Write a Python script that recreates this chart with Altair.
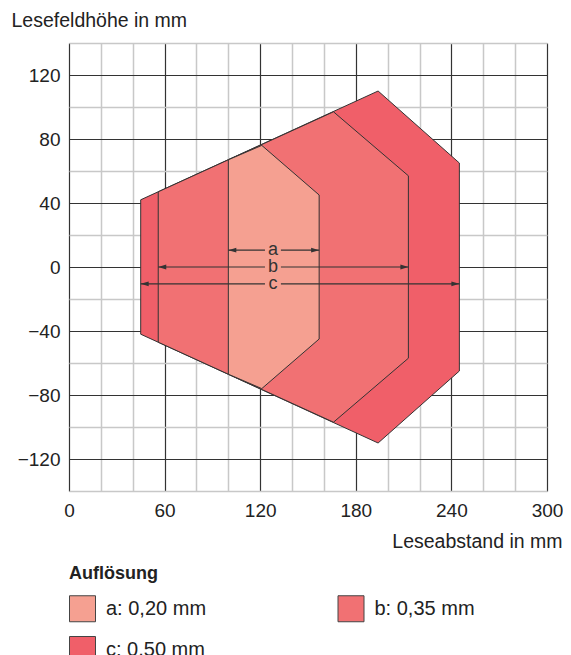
import altair as alt
import pandas as pd

# ---- data ----
res_names = ["a: 0,20 mm", "b: 0,35 mm", "c: 0,50 mm"]
res_colors = ["#F5A091", "#F17173", "#F05F69"]

poly_a_x = [100, 121, 157, 157, 121, 100, 100]
poly_a_y = [67, 76, 45, -45, -76, -67, 67]
poly_b_x = [56, 166, 213, 213, 166, 56, 56]
poly_b_y = [47, 97, 57, -57, -97, -47, 47]
poly_c_x = [45, 194, 245, 245, 194, 45, 45]
poly_c_y = [42, 110, 65, -65, -110, -42, 42]

arrow_names = ["a", "b", "c"]
arrow_y = [10.5, 0, -10.5]
arrow_start = [100, 56, 45]
arrow_end = [157, 213, 245]
label_x = 128
label_gap = 5

x_grid = list(range(0, 301, 20))
y_grid = list(range(-140, 141, 20))

FONT = "Liberation Sans"
TXT = "#222222"

def poly_df(xs, ys, name):
    return pd.DataFrame({"x": xs, "y": ys, "i": list(range(len(xs))), "res": [name] * len(xs)})

df_a = poly_df(poly_a_x, poly_a_y, res_names[0])
df_b = poly_df(poly_b_x, poly_b_y, res_names[1])
df_c = poly_df(poly_c_x, poly_c_y, res_names[2])

seg_rows = []
for n, yy, s, e in zip(arrow_names, arrow_y, arrow_start, arrow_end):
    seg_rows.append({"x": s, "x2": label_x - label_gap, "y": yy})
    seg_rows.append({"x": label_x + label_gap, "x2": e, "y": yy})
df_seg = pd.DataFrame(seg_rows)
df_left = pd.DataFrame({"x": arrow_start, "y": arrow_y})
df_right = pd.DataFrame({"x": arrow_end, "y": arrow_y})
df_lab = pd.DataFrame({"x": [label_x] * 3, "y": arrow_y, "t": arrow_names})

xscale = alt.Scale(domain=[0, 300], nice=False, zero=False)
yscale = alt.Scale(domain=[-140, 140], nice=False, zero=False)

xaxis = alt.Axis(
    values=x_grid,
    labelExpr="datum.value % 60 === 0 ? datum.label : ''",
    grid=True,
    gridColor={"condition": {"test": "datum.value % 60 === 0", "value": "#333333"}, "value": "#c8c8c8"},
    gridWidth={"condition": {"test": "datum.value % 60 === 0", "value": 1.2}, "value": 1.5},
    ticks=False, domain=False, labelPadding=10, labelFont=FONT, labelFontSize=19,
    labelColor=TXT, labelFlush=False, labelOverlap=False,
    title="Leseabstand in mm", titleFont=FONT, titleFontSize=19.5, titleFontWeight="normal",
    titleColor=TXT, titleAlign="right", titleBaseline="alphabetic", titleX=493, titleY=56,
)
yaxis = alt.Axis(
    values=y_grid,
    labelExpr="(datum.value % 40 === 0 && abs(datum.value) < 140) ? datum.label : ''",
    grid=True,
    gridColor={"condition": {"test": "datum.value % 40 === 0", "value": "#333333"}, "value": "#c8c8c8"},
    gridWidth={"condition": {"test": "datum.value % 40 === 0", "value": 1.2}, "value": 1.5},
    ticks=False, domain=False, labelPadding=9, labelFont=FONT, labelFontSize=19,
    labelColor=TXT, labelFlush=False, labelOverlap=False,
    title="Lesefeldhöhe in mm", titleFont=FONT, titleFontSize=19.5, titleFontWeight="normal",
    titleColor=TXT, titleAngle=0, titleAlign="left", titleBaseline="alphabetic",
    titleX=-58, titleY=-17,
)

def X(field="x"):
    return alt.X(f"{field}:Q", scale=xscale, axis=xaxis)

def Y(field="y"):
    return alt.Y(f"{field}:Q", scale=yscale, axis=yaxis)

fill_scale = alt.Scale(domain=res_names, range=res_colors)
legend = alt.Legend(
    orient="none", legendX=0, legendY=522, columns=2, direction="horizontal",
    title="Auflösung", titleFont=FONT, titleFontSize=18, titleFontWeight="bold",
    titleColor=TXT, titlePadding=12,
    symbolType="square", symbolSize=676, symbolStrokeColor="#444444", symbolStrokeWidth=1,
    symbolOpacity=1,
    labelFont=FONT, labelFontSize=20, labelColor=TXT, labelOffset=10,
    rowPadding=10, columnPadding=128.5, padding=0,
)

def poly_layer(df):
    return alt.Chart(df).mark_line(stroke="#333333", strokeWidth=1, strokeJoin="miter").encode(
        x=X(), y=Y(), order="i:Q",
        fill=alt.Fill("res:N", scale=fill_scale, legend=legend),
    )

layer_c = poly_layer(df_c)
layer_b = poly_layer(df_b)
layer_a = poly_layer(df_a)

rules = alt.Chart(df_seg).mark_rule(color="#333333", strokeWidth=1.2).encode(
    x=X(), x2="x2:Q", y=Y()
)
head_l = alt.Chart(df_left).mark_point(
    shape="M0,0L2,-0.6L2,0.6Z", size=64, filled=True, color="#333333", opacity=1, strokeWidth=0
).encode(x=X(), y=Y())
head_r = alt.Chart(df_right).mark_point(
    shape="M0,0L-2,-0.6L-2,0.6Z", size=64, filled=True, color="#333333", opacity=1, strokeWidth=0
).encode(x=X(), y=Y())
labels = alt.Chart(df_lab).mark_text(
    font=FONT, fontSize=18, color="#333333", baseline="middle", align="center"
).encode(x=X(), y=Y(), text="t:N")

chart = alt.layer(layer_c, layer_b, layer_a, rules, head_l, head_r, labels).properties(
    width=478, height=448,
    autosize=alt.AutoSizeParams(type="none"),
    padding={"left": 61, "top": 35, "right": 16, "bottom": 164},
).configure_view(stroke="#4d4d4d", strokeWidth=2).configure(background="white")

chart.save("out.html", embed_options={"renderer": "svg", "actions": False})
